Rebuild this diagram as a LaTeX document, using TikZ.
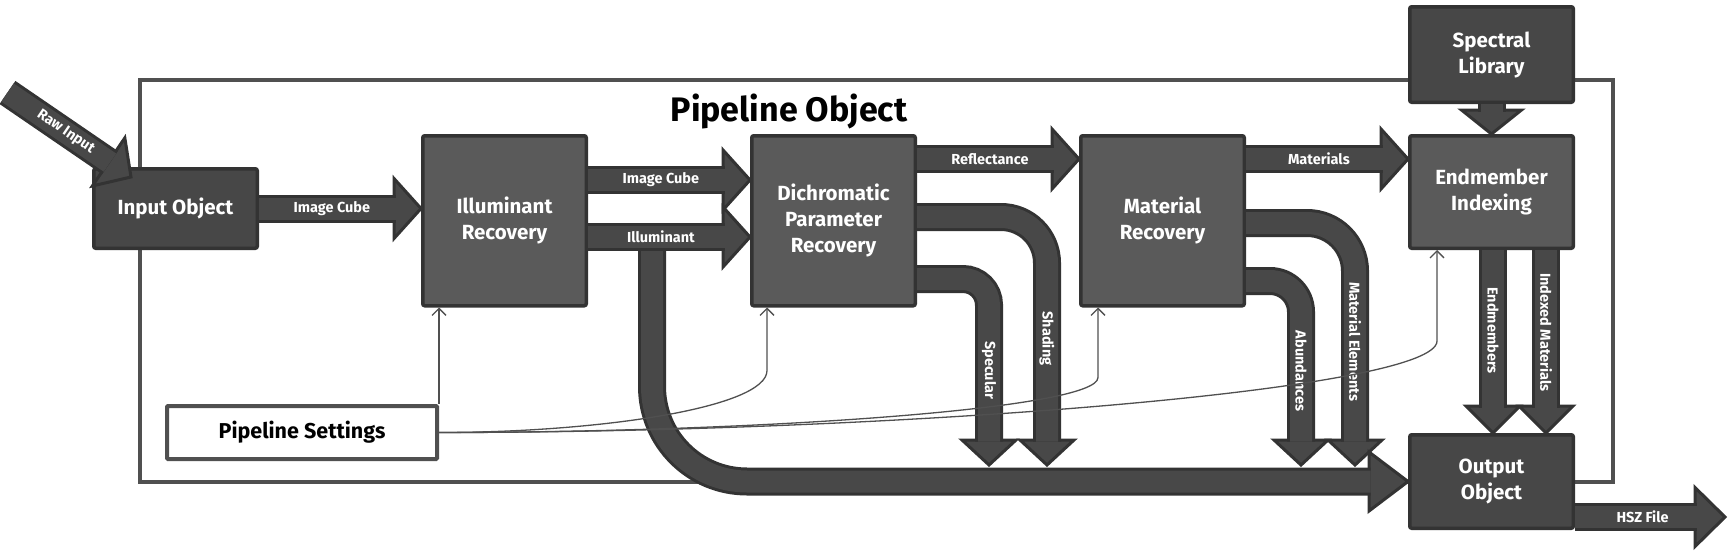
\documentclass[tikz,border=0pt]{standalone}
\usepackage{fontspec}
\setmainfont{Fira Sans}
\usetikzlibrary{positioning,calc,arrows.meta}

\definecolor{boxlight}{HTML}{5A5A5A}
\definecolor{boxdark}{HTML}{474747}
\definecolor{flowfill}{HTML}{484848}
\definecolor{edgedark}{HTML}{333333}
\definecolor{framegray}{HTML}{505050}

\begin{document}
\begin{tikzpicture}[x=1pt,y=-1pt,node distance=162pt,
  box/.style={draw=edgedark,line width=3.5pt,rounded corners=2pt,text=white,align=center,
    inner sep=0pt,minimum width=163.5pt,font=\fontsize{20.5}{26}\selectfont\bfseries},
  stage/.style={box,fill=boxlight,minimum height=170pt},
  io/.style={box,fill=boxdark},
  flow/.style={draw=edgedark,line width=3pt,double=flowfill,double distance=22pt},
  flowlabel/.style={text=white,inner sep=0pt,font=\fontsize{14.5}{16}\selectfont\bfseries},
  setline/.style={draw=framegray,line width=1.3pt,-{Straight Barb[length=7pt,width=14pt]}},
  pics/head/.style args={#1/#2}{code={
    \filldraw[fill=flowfill,draw=edgedark,line width=3pt,line join=miter]
      (0,0) -- (-#2,#1/2) -- (-#2,-#1/2) -- cycle;}}]
  \fill[white] (0,0) rectangle (1728,554);
  \useasboundingbox (0,0) rectangle (1728,554);

  % pipeline frame
  \draw[framegray,line width=4pt] (140,80) rectangle (1613,482);
  \node[font=\fontsize{34}{36}\selectfont\bfseries] (title) at (789,111) {Pipeline Object};

  % stages
  \node[stage] (ir) at (504.5,220.75) {Illuminant\\Recovery};
  \node[stage,right=of ir] (dpr) {Dichromatic\\Parameter\\Recovery};
  \node[stage,right=of dpr] (mr) {Material\\Recovery};
  \node[stage,minimum height=112.5pt,right=of mr.north east,anchor=north west] (ei) {Endmember\\Indexing};
  \node[io,minimum height=79.5pt,left=of ir,yshift=12.25pt] (in) {Input Object};
  \node[io,minimum height=95.5pt,above=30pt of ei] (sl) {Spectral\\Library};
  \node[io,minimum height=93.5pt,below=183pt of ei] (op) {Output\\Object};
  \node[draw=framegray,line width=4pt,fill=white,rounded corners=1pt,minimum width=270pt,
    minimum height=53pt,font=\fontsize{21.5}{24}\selectfont\bfseries] (ps) at (302,432.5) {Pipeline Settings};

  \coordinate (raw)  at (7.5,92.5);
  \coordinate (trw)  at ($(in.north west)+(39,10)$);
  \coordinate (hsz)  at (1725,517);
  \coordinate (illum) at (652,240);
  \coordinate (spec) at (989,465);
  \coordinate (shad) at (1047,465);
  \coordinate (abun) at (1301,465);
  \coordinate (mele) at (1355,465);

  % flows down into the output line
  \pic[rotate=-90] at (mele) {head=54/25};
  \draw[flow,rounded corners=48pt,shorten >=23.5pt] (mr.east |- 0,223) -| (mele)
    node[flowlabel,rotate=-90,pos=.745] {Material Elements};
  \pic[rotate=-90] at (abun) {head=54/25};
  \draw[flow,rounded corners=31pt,shorten >=23.5pt] (mr.east |- 0,281) -| (abun)
    node[flowlabel,rotate=-90,pos=.745] {Abundances};
  \pic[rotate=-90] at (shad) {head=54/25};
  \draw[flow,rounded corners=46pt,shorten >=23.5pt] (dpr.east |- 0,217) -| (shad)
    node[flowlabel,rotate=-90,pos=.745] {Shading};
  \pic[rotate=-90] at (spec) {head=54/25};
  \draw[flow,rounded corners=26pt,shorten >=23.5pt] (dpr.east |- 0,279) -| (spec)
    node[flowlabel,rotate=-90,pos=.745] {Specular};

  % illuminant to output
  \pic at (op.west) {head=59/39};
  \draw[flow,rounded corners=95pt,shorten >=37.5pt] (illum) |- (op.west);

  % straight flows
  \pic at (ir.west |- in.east) {head=60/27};
  \draw[flow,shorten >=25.5pt] (in.east) -- (ir.west |- in.east)
    node[flowlabel,pos=.45] {Image Cube};
  \pic at (dpr.west |- 0,180) {head=60/27};
  \draw[flow,shorten >=25.5pt] (ir.east |- 0,180) -- (dpr.west |- 0,180)
    node[flowlabel,pos=.45] {Image Cube};
  \pic at (dpr.west |- 0,237) {head=60/27};
  \draw[flow,shorten >=25.5pt] (ir.east |- 0,237) -- (dpr.west |- 0,237)
    node[flowlabel,pos=.45] {Illuminant};
  \pic at (mr.west |- 0,159) {head=60/27};
  \draw[flow,shorten >=25.5pt] (dpr.east |- 0,159) -- (mr.west |- 0,159)
    node[flowlabel,pos=.45] {Reflectance};
  \pic at (ei.west |- 0,159) {head=60/27};
  \draw[flow,shorten >=25.5pt] (mr.east |- 0,159) -- (ei.west |- 0,159)
    node[flowlabel,pos=.45] {Materials};
  \pic[rotate=-90] at (ei.north) {head=60/24};
  \draw[flow,shorten >=22.5pt] (sl.south) -- (ei.north);
  \pic[rotate=-90] at (op.north -| 1493,0) {head=54/27};
  \draw[flow,shorten >=25.5pt] (ei.south -| 1493,0) -- (op.north -| 1493,0)
    node[flowlabel,rotate=-90,pos=.44] {Endmembers};
  \pic[rotate=-90] at (op.north -| 1546,0) {head=54/27};
  \draw[flow,shorten >=25.5pt] (ei.south -| 1546,0) -- (op.north -| 1546,0)
    node[flowlabel,rotate=-90,pos=.45] {Indexed Materials};
  \pic at (hsz) {head=59/30};
  \draw[flow,shorten >=28.5pt] (op.east |- hsz) -- (hsz)
    node[flowlabel,pos=.45] {HSZ File};
  \pic[rotate=-34] at (trw) {head=58/27};
  \draw[flow,shorten >=25.5pt] (raw) -- (trw)
    node[flowlabel,sloped,pos=.47] {Raw Input};

  % settings feed every stage
  \draw[setline] (ps.north east) -- (ps.north east |- ir.south);
  \draw[setline] (ps.east) .. controls +(161,0) and +(0,37) .. ($(dpr.south west)+(17,63)$)
    -- ($(dpr.south west)+(17,0)$);
  \draw[setline] (ps.east) .. controls +(311,0) and +(0,32) .. ($(mr.south west)+(19,70)$)
    -- ($(mr.south west)+(19,0)$);
  \draw[setline] (ps.east) .. controls +(461,0) and +(0,49) .. ($(ei.south west)+(29,91)$)
    -- ($(ei.south west)+(29,0)$);
\end{tikzpicture}
\end{document}
